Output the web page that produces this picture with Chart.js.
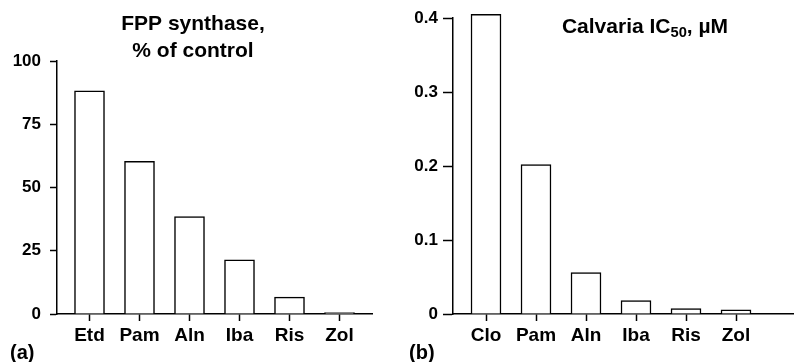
<!DOCTYPE html>
<html>
<head>
<meta charset="utf-8">
<script src="https://cdn.jsdelivr.net/npm/chart.js@4.4.1/dist/chart.umd.min.js"></script>
<style>
  html, body { margin: 0; padding: 0; background: #fff; }
  .panel { position: absolute; top: 0; height: 362px; }
  #left { left: 0; width: 400px; }
  #right { left: 400px; width: 394px; }
</style>
</head>
<body>
<div class="panel" id="left"><canvas id="chartA"></canvas></div>
<div class="panel" id="right"><canvas id="chartB"></canvas></div>
<script>
// Panel (a): FPP synthase, % of control
const drugsA = ['Etd', 'Pam', 'Aln', 'Iba', 'Ris', 'Zol'];
const fppValues = [88.2, 60.3, 38.5, 21.4, 6.7, 0.6];
const ticksA = [0, 25, 50, 75, 100];

// Panel (b): Calvaria IC50, µM
const drugsB = ['Clo', 'Pam', 'Aln', 'Iba', 'Ris', 'Zol'];
const ic50Values = [0.405, 0.202, 0.056, 0.018, 0.0072, 0.0055];
const ticksB = [0, 0.1, 0.2, 0.3, 0.4];

const FONT = 'Liberation Sans, Arial, Helvetica, sans-serif';
Chart.defaults.font.family = FONT;
Chart.defaults.color = '#000';
Chart.defaults.animation = false;

// Small plugin to paint the panel titles and letters
const panelText = {
    id: 'panelText',
    afterDraw(chart, args, opts) {
        const ctx = chart.ctx;
        ctx.save();
        ctx.fillStyle = '#000';
        ctx.textBaseline = 'middle';
        (opts.items || []).forEach(item => {
            ctx.font = 'bold ' + item.size + 'px ' + FONT;
            if (item.parts) {
                // text with subscript pieces
                let total = 0;
                item.parts.forEach(p => {
                    ctx.font = 'bold ' + (p.sub ? item.size * 0.7 : item.size) + 'px ' + FONT;
                    total += ctx.measureText(p.t).width;
                });
                let x = item.x - total / 2;
                ctx.textAlign = 'left';
                item.parts.forEach(p => {
                    ctx.font = 'bold ' + (p.sub ? item.size * 0.7 : item.size) + 'px ' + FONT;
                    ctx.fillText(p.t, x, item.y + (p.sub ? 6 : 0));
                    x += ctx.measureText(p.t).width;
                });
            } else {
                ctx.textAlign = item.align || 'center';
                ctx.fillText(item.text, item.x, item.y);
            }
        });
        ctx.restore();
    }
};

function makeChart(id, names, values, yTicks, cfg) {
    return new Chart(document.getElementById(id), {
        type: 'bar',
        data: {
            datasets: [{
                data: values.map((v, i) => ({ x: i + 1, y: v })),
                backgroundColor: '#fff',
                borderColor: '#000',
                borderWidth: 1.5,
                barThickness: 30,
                clip: false
            }]
        },
        options: {
            responsive: true,
            maintainAspectRatio: false,
            layout: { padding: cfg.padding },
            plugins: {
                legend: { display: false },
                tooltip: { enabled: false },
                panelText: { items: cfg.texts }
            },
            scales: {
                x: {
                    type: 'linear',
                    offset: false,
                    min: cfg.xMin,
                    max: cfg.xMax,
                    afterBuildTicks: s => { s.ticks = names.map((n, i) => ({ value: i + 1 })); },
                    afterFit: s => { s.height = 48; },
                    border: { color: '#000', width: 1.5 },
                    grid: { offset: false, drawOnChartArea: false, drawTicks: true, tickLength: 7, tickColor: '#000', tickWidth: 1.5 },
                    ticks: {
                        autoSkip: false,
                        maxRotation: 0,
                        padding: 3,
                        font: { size: 19, weight: 'bold' },
                        callback: v => names[v - 1]
                    }
                },
                y: {
                    min: 0,
                    max: yTicks[yTicks.length - 1],
                    afterBuildTicks: s => { s.ticks = yTicks.map(v => ({ value: v })); },
                    afterFit: s => { s.width = cfg.yWidth; },
                    border: { color: '#000', width: 1.5 },
                    grid: { drawOnChartArea: false, drawTicks: true, tickLength: cfg.yTick, tickColor: '#000', tickWidth: 1.5 },
                    ticks: {
                        padding: cfg.yPad,
                        font: { size: 17, weight: 'bold' },
                        callback: v => String(v)
                    }
                }
            }
        },
        plugins: [panelText]
    });
}

makeChart('chartA', drugsA, fppValues, ticksA, {
    padding: { top: 61, right: 28, left: 0, bottom: 0 },
    xMin: 0.35, xMax: 6.65,
    yWidth: 57, yTick: 7, yPad: 9,
    texts: [
        { text: 'FPP synthase,', x: 193, y: 24, size: 21 },
        { text: '% of control', x: 193, y: 51, size: 21 },
        { text: '(a)', x: 10, y: 353, size: 20, align: 'left' }
    ]
});

makeChart('chartB', drugsB, ic50Values, ticksB, {
    padding: { top: 18, right: 1, left: 0, bottom: 0 },
    xMin: 0.34, xMax: 7.14,
    yWidth: 53, yTick: 10, yPad: 5,
    texts: [
        { parts: [{ t: 'Calvaria IC' }, { t: '50', sub: true }, { t: ', \u00b5M' }], x: 245, y: 27, size: 21 },
        { text: '(b)', x: 9, y: 353, size: 20, align: 'left' }
    ]
});
</script>
</body>
</html>
